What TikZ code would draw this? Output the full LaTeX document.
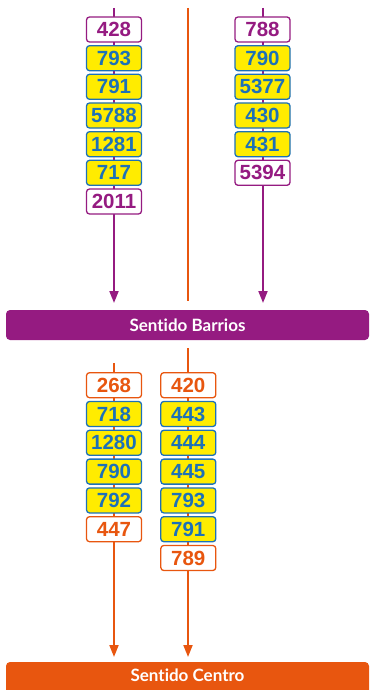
\documentclass[tikz,border=0pt]{standalone}
\usepackage{fontspec}
\setmainfont{Liberation Sans}
\newfontfamily\latofont[Ligatures=NoCommon]{Lato}
\usetikzlibrary{arrows.meta}
\definecolor{barrios}{HTML}{951B81}
\definecolor{centro}{HTML}{E8560F}
\definecolor{amarillo}{HTML}{FFEC00}
\definecolor{azul}{HTML}{1D71B8}
\tikzset{
  busbox/.style={draw, rounded corners=3pt, line width=1.3pt, minimum width=55pt,
    minimum height=25pt, inner sep=0pt, font=\fontsize{20.5}{20.5}\selectfont\bfseries},
  bbox/.style={busbox, fill=white, draw=barrios, text=barrios},
  cbox/.style={busbox, fill=white, draw=centro, text=centro},
  ybox/.style={busbox, fill=amarillo, draw=azul, text=azul},
  bar/.style={rounded corners=4pt, minimum width=363pt, inner sep=0pt,
    text=white, font=\latofont\fontsize{17}{17}\selectfont\bfseries},
  route/.style={line width=1.8pt},
  tip/.style={-{Triangle[width=9pt,length=12pt]}}
}
\begin{document}
\begin{tikzpicture}[x=1pt,y=-1pt]
  \useasboundingbox (0,0) rectangle (370,690);
  % line ends
  \coordinate (lt) at (114,8);
  \coordinate (le) at (114,303);
  \coordinate (rt) at (263,8);
  \coordinate (re) at (263,303);
  \coordinate (mt) at (188,8);
  \coordinate (me) at (188,301);
  \coordinate (clt) at (114,363);
  \coordinate (cle) at (114,657);
  \coordinate (crt) at (188,348);
  \coordinate (cre) at (188,657);
  \begin{scope}[route]
    \draw[barrios, tip] (lt) to (le);
    \draw[barrios, tip] (rt) to (re);
    \draw[centro] (mt) to (me);
    \draw[centro, tip] (clt) to (cle);
    \draw[centro, tip] (crt) to (cre);
  \end{scope}
  % sentido barrios
  \draw
    (114,29.5) node[bbox] (l1){428}
    (114,58.2) node[ybox] (l2){793}
    (114,86.8) node[ybox] (l3){791}
    (114,115.5) node[ybox] (l4){5788}
    (114,144.2) node[ybox] (l5){1281}
    (114,172.8) node[ybox] (l6){717}
    (114,201.5) node[bbox] (l7){2011};
  \draw
    (262.5,29.5) node[bbox] (r1){788}
    (262.5,58.2) node[ybox] (r2){790}
    (262.5,86.8) node[ybox] (r3){5377}
    (262.5,115.5) node[ybox] (r4){430}
    (262.5,144.2) node[ybox] (r5){431}
    (262.5,172.8) node[bbox] (r6){5394};
  \node[bar, fill=barrios, minimum height=30pt] (barrios) at (187.5,325) {Sentido Barrios};
  % sentido centro
  \draw
    (114,385.2) node[cbox] (cl1){268}
    (114,414) node[ybox] (cl2){718}
    (114,442.8) node[ybox] (cl3){1280}
    (114,471.6) node[ybox] (cl4){790}
    (114,500.4) node[ybox] (cl5){792}
    (114,529.2) node[cbox] (cl6){447};
  \draw
    (188.3,385.2) node[cbox] (cr1){420}
    (188.3,414) node[ybox] (cr2){443}
    (188.3,442.8) node[ybox] (cr3){444}
    (188.3,471.6) node[ybox] (cr4){445}
    (188.3,500.4) node[ybox] (cr5){793}
    (188.3,529.2) node[ybox] (cr6){791}
    (188.3,558) node[cbox] (cr7){789};
  \node[bar, fill=centro, minimum height=36pt, text depth=9pt] (centro) at (187.5,680) {Sentido Centro};
\end{tikzpicture}
\end{document}
